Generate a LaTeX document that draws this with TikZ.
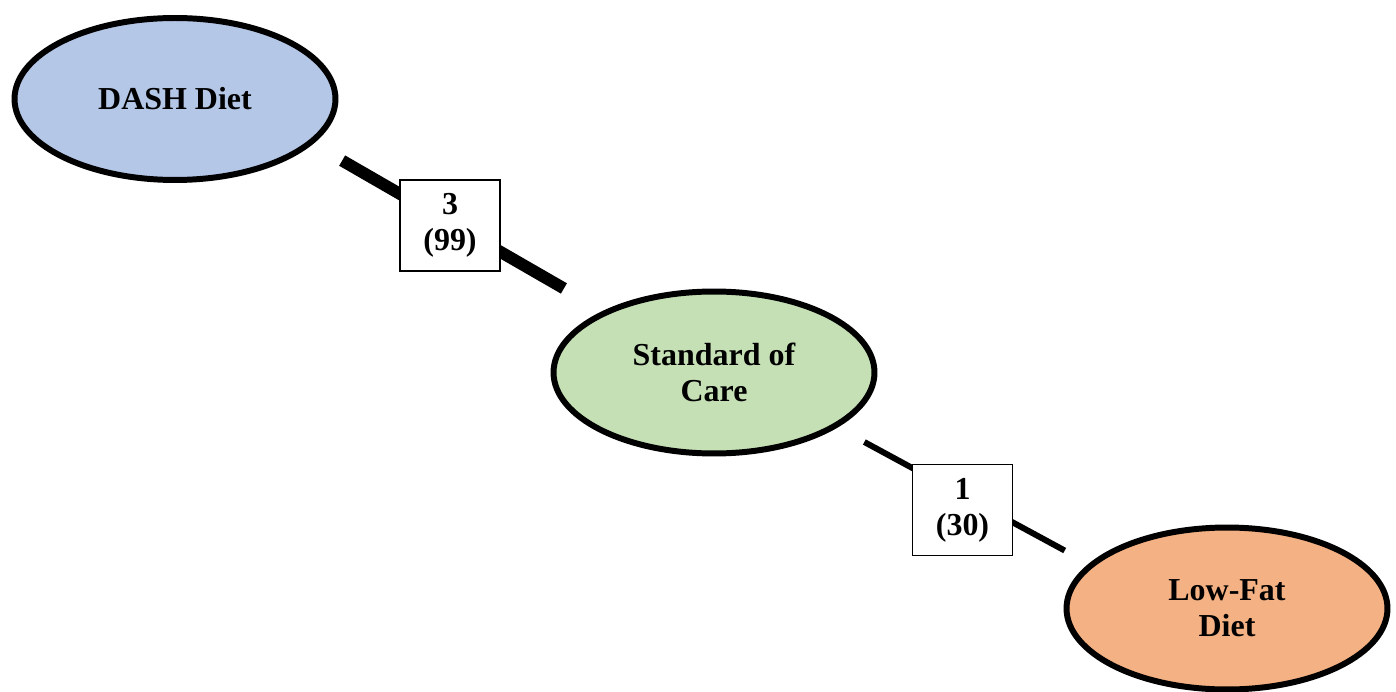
\documentclass[tikz,border=0pt]{standalone}
\usepackage{fontspec}
\setmainfont{Liberation Serif}
\usepackage{tikz}
\usetikzlibrary{shapes.geometric}
\definecolor{dashblue}{RGB}{180,199,231}
\definecolor{socgreen}{RGB}{197,224,180}
\definecolor{lowfatorange}{RGB}{244,177,131}

\begin{document}
\begin{tikzpicture}[
    x=0.02cm, y=-0.02cm,
    arm/.style={ellipse, draw, line width=3.4pt, inner sep=0pt,
                minimum width=6.42cm, minimum height=3.24cm, align=center,
                font=\fontsize{18.2}{20.5}\selectfont\bfseries},
    trials/.style={rectangle, draw, fill=white, line width=1.1pt, inner sep=0pt,
                   minimum width=2cm, minimum height=1.82cm, align=center,
                   font=\fontsize{18.2}{20.5}\selectfont\bfseries}
]
\useasboundingbox (0,0) rectangle (1396,692);
% bracci della rete
\node[arm, fill=dashblue] (dash) at (175,99) {DASH Diet};
\node[arm, fill=socgreen] (soc) at (714,372.5) {Standard of\\Care};
\node[arm, fill=lowfatorange] (lowfat) at (1227,608.5) {Low-Fat\\Diet};
% confronti diretti (spessore = numero di studi)
\draw[line width=6.8pt, shorten <=0.67cm, shorten >=0.9cm]
    (dash.-18.35) -- (soc.151.06);
\draw[line width=3.4pt, shorten <=0.61cm, shorten >=0.55cm]
    (soc.-24.77) -- (lowfat.162.7);
% studi (pazienti)
\node[trials] (w1) at (450,225.5) {3\\(99)};
\node[trials] (w2) at (962.5,510) {1\\(30)};
\end{tikzpicture}
\end{document}
